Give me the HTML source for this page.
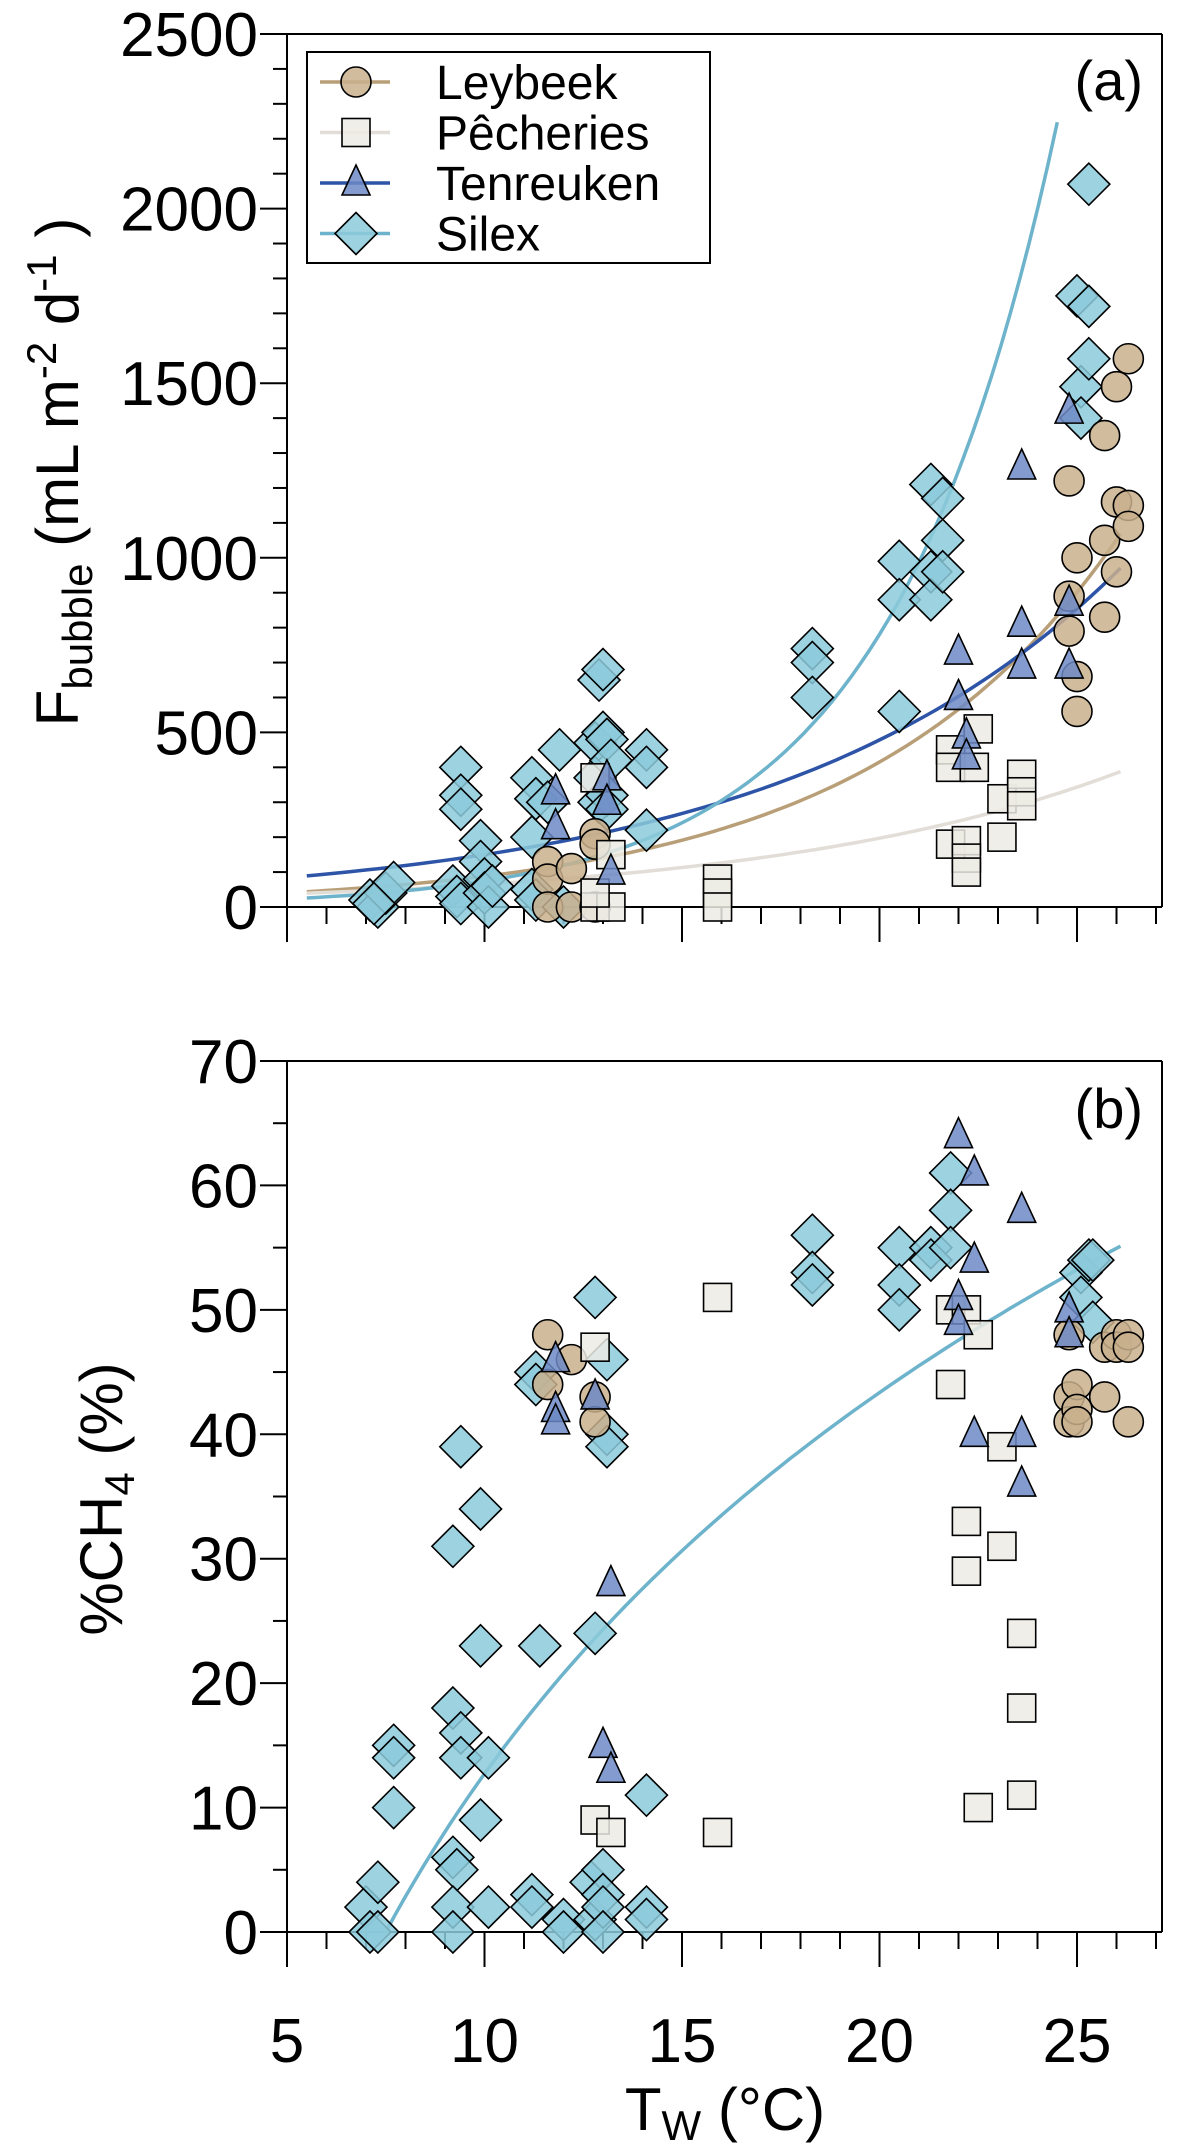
<!DOCTYPE html>
<html><head><meta charset="utf-8">
<style>
html,body{margin:0;padding:0;background:#fff;}
svg{display:block;font-family:"Liberation Sans",Arial,sans-serif;}
</style></head>
<body>
<svg id="chart" width="1177" height="2146" viewBox="0 0 1177 2146" xmlns="http://www.w3.org/2000/svg"></svg>
<script>
// ---- Panel (a) data: F_bubble ----
const aSilexX=[7.1,7.3,7.5,7.7,7.2,9.2,9.3,9.4,9.4,9.4,9.4,9.9,9.9,10,10,10.1,10.2,11.2,11.3,11.2,11.2,11.3,11.6,11.9,12,12.8,12.8,12.9,12.9,13,13,13.1,13.2,13.1,13.1,14.1,14.1,14.1,18.3,18.3,18.3,20.5,20.5,20.5,21.3,21.3,21.3,21.6,21.6,21.6,25.0,25.1,25.1,25.3,25.3,25.3];
const aSilexY=[20,0,40,70,10,60,30,10,400,320,280,190,130,80,40,0,60,370,310,200,50,20,300,450,0,470,370,300,650,680,500,480,420,320,280,450,400,220,740,700,600,990,880,560,1210,960,880,1170,1050,960,1750,1490,1400,2070,1720,1570];
const aLeyX=[11.6,11.6,11.6,12.2,12.2,12.8,12.8,12.8,24.8,24.8,24.8,25.0,25.0,25.0,25.7,25.7,25.7,26.0,26.0,26.0,26.3,26.3,26.3];
const aLeyY=[130,80,0,110,0,210,180,0,1220,890,790,1000,660,560,1350,1050,830,1490,1160,960,1570,1150,1090];
const aPecX=[12.8,12.8,13.2,13.2,12.8,15.9,15.9,15.9,21.8,21.8,21.8,22.2,22.2,22.2,22.5,22.4,23.1,23.1,23.6,23.6,23.6];
const aPecY=[370,0,150,0,40,80,40,0,450,400,180,190,140,100,510,400,310,200,380,330,290];
const aTenX=[11.8,11.8,13.1,13.1,13.2,22.0,22.0,22.2,22.2,23.6,23.6,23.6,24.8,24.8,24.8];
const aTenY=[330,230,370,300,100,730,600,490,430,1260,810,690,1420,870,690];
// exponential fits y = A*exp(B*x)
const fitA={silex:[7.1,0.235,5.5,24.5],ley:[18.7,0.155,5.5,26.1],pec:[21.4,0.111,5.5,26.1],ten:[47,0.116,5.5,26.1]};
// ---- Panel (b) data: %CH4 ----
const bSilexX=[7.0,7.1,7.3,7.3,7.7,7.7,7.7,9.2,9.3,9.2,9.2,9.2,9.4,9.2,9.4,9.4,9.9,9.9,9.9,10.1,10.1,11.3,11.3,11.4,11.2,11.2,12,12,12.8,12.8,12.7,12.8,13,13,13,13,13.1,13.1,13.1,14.1,14.1,14.1,18.3,18.3,18.3,20.5,20.5,20.5,21.3,21.3,21.8,21.8,21.8,25.1,25.1,25.3,25.4,25.4];
const bSilexY=[2,0,0,4,15,14,10,6,5,2,0,31,39,18,16,14,34,23,9,14,2,45,44,23,3,2,1,0,51,24,4,1,5,3,2,0,46,40,39,11,2,1,56,53,52,55,52,50,55,54,61,58,55,53,51,54,54,49];
const bLeyX=[11.6,11.6,12.2,12.8,12.8,24.8,24.8,24.8,25.0,25.0,25.0,25.7,25.7,26.0,26.0,26.3,26.3,26.3];
const bLeyY=[48,44,46,43,41,48,43,41,44,42,41,47,43,48,47,48,47,41];
const bPecX=[12.8,12.8,13.2,15.9,15.9,21.8,21.8,22.2,22.2,22.2,22.5,22.5,23.1,23.1,23.6,23.6,23.6];
const bPecY=[47,9,8,51,8,50,44,50,33,29,48,10,39,31,24,18,11];
const bTenX=[11.8,11.8,11.8,12.8,13.2,13.0,13.2,22.0,22.0,22.0,22.4,22.4,22.4,23.6,23.6,23.6,24.8,24.8];
const bTenY=[46,42,41,43,28,15,13,64,51,49,61,54,40,58,40,36,50,48];
// log fit y = A*ln(x/x0)
const fitB=[44.2,7.5,7.5,26.1];
const xTicks=[5,10,15,20,25];
const aYTicks=[0,500,1000,1500,2000,2500];
const bYTicks=[0,10,20,30,40,50,60,70];

const NS='http://www.w3.org/2000/svg';
const svg=document.getElementById('chart');
function el(tag,attrs,parent){const e=document.createElementNS(NS,tag);for(const k in attrs)e.setAttribute(k,attrs[k]);(parent||svg).appendChild(e);return e;}
const L=287,R=1162;
const xs=v=>L+(v-5)*(1077-287)/20;
const COL={silex:'#8ccadb',ley:'#c9b08d',pec:'#ecebe4',ten:'#6d89c6'};
const LCOL={silex:'#6db3cb',ley:'#b99f78',pec:'#e2ded7',ten:'#2d54a6'};

function marker(g,type,cx,cy){
  let m;
  if(type==='silex') m=el('polygon',{points:`${cx},${cy-21} ${cx+21},${cy} ${cx},${cy+21} ${cx-21},${cy}`},g);
  else if(type==='ley') m=el('circle',{cx:cx,cy:cy,r:15},g);
  else if(type==='pec') m=el('rect',{x:cx-14,y:cy-14,width:28,height:28},g);
  else m=el('polygon',{points:`${cx},${cy-18} ${cx+14},${cy+12} ${cx-14},${cy+12}`},g);
  m.setAttribute('fill',COL[type]);m.setAttribute('fill-opacity','0.85');
  m.setAttribute('stroke','#000');m.setAttribute('stroke-width','1.6');
  return m;
}

function axes(name,top,y0,ys,yTicks,minorStep,yMax){
  const g=el('g',{},svg);
  
  
  el('line',{x1:L,y1:top,x2:R,y2:top,stroke:'#000','stroke-width':2},g);
  el('line',{x1:R,y1:top,x2:R,y2:y0,stroke:'#000','stroke-width':2},g);
  el('line',{x1:L,y1:top,x2:L,y2:y0+35,stroke:'#000','stroke-width':2},g);
  el('line',{x1:L-27,y1:y0,x2:R,y2:y0,stroke:'#000','stroke-width':2},g);
  for(let v=0;v<=yMax+1e-9;v+=minorStep){
    const major=yTicks.includes(Math.round(v));
    el('line',{x1:L-(major?27:14),y1:ys(v),x2:L,y2:ys(v),stroke:'#000','stroke-width':2},g);
  }
  yTicks.forEach(v=>{
    const t=el('text',{x:258,y:ys(v)+22,'text-anchor':'end','font-size':62},g);
    t.textContent=v;
    
    
  });
  for(let v=5;v<=27;v++){
    const major=v%5===0;
    el('line',{x1:xs(v),y1:y0,x2:xs(v),y2:y0+(major?35:17),stroke:'#000','stroke-width':2},g);
  }
}

// ---------- Panel a ----------
const aTop=34,aY0=907;
const ysA=v=>aY0-v*(aY0-aTop)/2500;
axes('panel-a',aTop,aY0,ysA,aYTicks,100,2500);
const curvesA=el('g',{},svg);


['ley','pec','ten','silex'].forEach(k=>{
  const [A,B,x0,x1]=fitA[k];let d='';
  for(let i=0;i<=80;i++){const x=x0+(x1-x0)*i/80;d+=(i?'L':'M')+xs(x).toFixed(1)+','+ysA(A*Math.exp(B*x)).toFixed(1);}
  const p=el('path',{d:d,fill:'none',stroke:LCOL[k],'stroke-width':3.5},curvesA);
  
  
});
function series(panel,type,X,Y,ys){
  const g=el('g',{},svg);
  
  
  X.forEach((x,i)=>{const m=marker(g,type,xs(x),ys(Y[i]));
    
    });
}
series('panel-a','silex',aSilexX,aSilexY,ysA);
series('panel-a','ley',aLeyX,aLeyY,ysA);
series('panel-a','pec',aPecX,aPecY,ysA);
series('panel-a','ten',aTenX,aTenY,ysA);

// legend
const lg=el('g',{},svg);


el('rect',{x:307,y:52,width:403,height:211,fill:'#fff',stroke:'#000','stroke-width':2},lg);
const names=[['ley','Leybeek'],['pec','Pêcheries'],['ten','Tenreuken'],['silex','Silex']];
names.forEach((n,i)=>{
  const y=82+i*50.5;
  const e=el('g',{},lg);
  
  
  el('line',{x1:320,y1:y,x2:390,y2:y,stroke:LCOL[n[0]],'stroke-width':3.5},e);
  marker(e,n[0],356,y);
  const t=el('text',{x:436,y:y+17,'font-size':48},e);t.textContent=n[1];
});
const ta=el('text',{x:1143,y:100,'text-anchor':'end','font-size':56},svg);ta.textContent='(a)';

const yta=el('text',{transform:'translate(78,472) rotate(-90)','text-anchor':'middle','font-size':60},svg);

yta.innerHTML='F<tspan font-size="42" dy="14">bubble</tspan><tspan dy="-14"> (mL m</tspan><tspan font-size="42" dy="-22">-2</tspan><tspan dy="22"> d</tspan><tspan font-size="42" dy="-22">-1</tspan><tspan dy="22"> )</tspan>';

// ---------- Panel b ----------
const bTop=1061,bY0=1932;
const ysB=v=>bY0-v*(bY0-bTop)/70;
axes('panel-b',bTop,bY0,ysB,bYTicks,5,70);
xTicks.forEach(v=>{
  const t=el('text',{x:xs(v),y:2062,'text-anchor':'middle','font-size':62},svg);
  t.textContent=v;
  
  
});
{
  const [A,x0,s,e]=fitB;let d='';
  for(let i=0;i<=80;i++){const x=s+(e-s)*i/80;d+=(i?'L':'M')+xs(x).toFixed(1)+','+ysB(A*Math.log(x/x0)).toFixed(1);}
  const p=el('path',{d:d,fill:'none',stroke:LCOL.silex,'stroke-width':3.5},svg);
  
  
}
series('panel-b','silex',bSilexX,bSilexY,ysB);
series('panel-b','ley',bLeyX,bLeyY,ysB);
series('panel-b','pec',bPecX,bPecY,ysB);
series('panel-b','ten',bTenX,bTenY,ysB);
const tb=el('text',{x:1143,y:1128,'text-anchor':'end','font-size':56},svg);tb.textContent='(b)';

const ytb=el('text',{transform:'translate(122,1499) rotate(-90)','text-anchor':'middle','font-size':60},svg);

ytb.innerHTML='%CH<tspan font-size="42" dy="12">4</tspan><tspan dy="-12"> (%)</tspan>';
const xt=el('text',{x:725,y:2130,'text-anchor':'middle','font-size':60},svg);

xt.innerHTML='T<tspan font-size="42" dy="10">W</tspan><tspan dy="-10"> (°C)</tspan>';
</script>
</body></html>
